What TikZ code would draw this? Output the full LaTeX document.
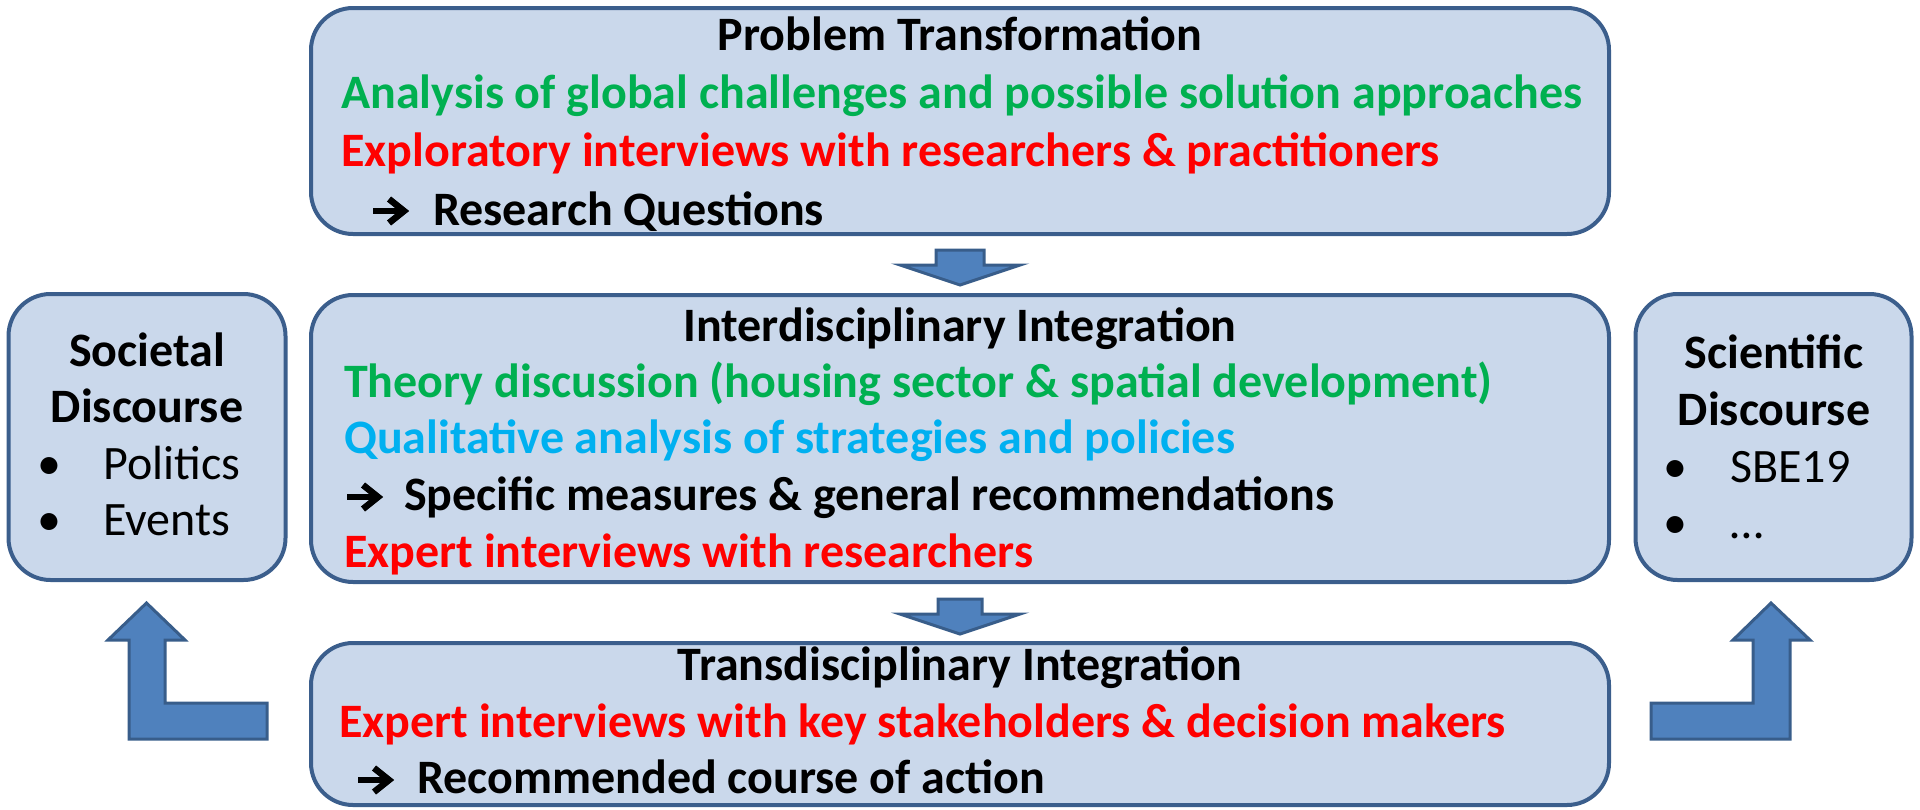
\documentclass[tikz,border=0pt]{standalone}
\usepackage{fontspec}
\setmainfont{Carlito}
\usetikzlibrary{calc}
\definecolor{boxfill}{HTML}{CAD8EB}
\definecolor{boxline}{HTML}{3B5E8C}
\definecolor{arrfill}{HTML}{4F81BD}
\definecolor{arrline}{HTML}{385D8A}
\definecolor{tgreen}{HTML}{00B050}
\definecolor{tred}{HTML}{FF0000}
\definecolor{tcyan}{HTML}{00B0F0}
\begin{document}
\begin{tikzpicture}[x=1pt,y=-1pt,
  box/.style={draw=boxline, fill=boxfill, line width=4pt, rounded corners=42pt, inner sep=0pt},
  blockarrow/.style={draw=arrline, fill=arrfill, line width=3pt, line join=miter},
  txt/.style={anchor=base west, inner sep=0pt, font=\fontsize{48}{58}\selectfont\bfseries},
  head/.style={anchor=base, inner sep=0pt, font=\fontsize{48}{58}\selectfont\bfseries},
  plain/.style={anchor=base west, inner sep=0pt, font=\fontsize{48}{58}\selectfont},
  arrowshaft/.style={line width=6pt},
  arrowchev/.style={line width=6.5pt, line join=miter, miter limit=4},
]
\useasboundingbox (0,0) rectangle (1920,809);

% boxes
\node[box, minimum width=1298pt, minimum height=226pt] (top) at (960,121) {};
\node[box, minimum width=1298pt, minimum height=287pt] (mid) at (960,438.5) {};
\node[box, minimum width=1298pt, minimum height=162pt] (bot) at (960,724) {};
\node[box, minimum width=277pt, minimum height=286pt] (soc) at (147,437) {};
\node[box, minimum width=276pt, minimum height=286pt] (sci) at (1773.5,437) {};

% top box text
\node[head] (h1) at (960,50) {Problem Transformation};
\node[txt, text=tgreen] (t1) at (341,108) {Analysis of global challenges and possible solution approaches};
\node[txt, text=tred] (t2) at (341,166) {Exploratory interviews with researchers \& practitioners};
\coordinate (a1) at (373,211);
\node[txt] (t3) at (433,225) {Research Questions};

% middle box text
\node[head] (h2) at (960,341) {Interdisciplinary Integration};
\node[txt, text=tgreen] (m1) at (344,397) {Theory discussion (housing sector \& spatial development)};
\node[txt, text=tcyan] (m2) at (344,453) {Qualitative analysis of strategies and policies};
\coordinate (a2) at (347,497);
\node[txt] (m3) at (404,510) {Specific measures \& general recommendations};
\node[txt, text=tred] (m4) at (344,567) {Expert interviews with researchers};

% bottom box text
\node[head] (h3) at (960,680) {Transdisciplinary Integration};
\node[txt, text=tred] (b1) at (339,737) {Expert interviews with key stakeholders \& decision makers};
\coordinate (a3) at (358,780);
\node[txt] (b2) at (417,793) {Recommended course of action};

% arrow symbols
\foreach \c in {a1,a2,a3}{
  \draw[arrowshaft] ($(\c)+(0,0)$) -- ($(\c)+(30,0)$);
  \draw[arrowchev] ($(\c)+(16,-12)$) -- ($(\c)+(31,0)$) -- ($(\c)+(16,12)$);
}

% left box text
\node[head] (s1) at (147,366) {Societal};
\node[head] (s2) at (147,422) {Discourse};
\node[plain] (sb1) at (37,479) {•};
\node[plain] (sp) at (103,479) {Politics};
\node[plain] (sb2) at (37,535) {•};
\node[plain] (se) at (103,535) {Events};

% right box text
\node[head] (r1) at (1774,368) {Scientific};
\node[head] (r2) at (1774,425) {Discourse};
\node[plain] (rb1) at (1663,482) {•};
\node[plain] (rs) at (1730,482) {SBE19};
\node[plain] (rb2) at (1663,538) {•};
\node[plain] (rd) at (1730,538) {…};

% down block arrows
\draw[blockarrow, shift={(top.south)}]
  (-24,14) -- (24,14) -- (24,29) -- (60,29) -- (0,49) -- (-60,29) -- (-24,29) -- cycle;
\draw[blockarrow, shift={(mid.south)}]
  (-22,15) -- (22,15) -- (22,30) -- (60,30) -- (0,50) -- (-60,30) -- (-22,30) -- cycle;

% L-shaped block arrows
\draw[blockarrow]
  (146.5,603) -- (185,640) -- (165,640) -- (165,703) -- (267,703) -- (267,739)
  -- (129,739) -- (129,640) -- (108,640) -- cycle;
\draw[blockarrow]
  (1771,603) -- (1810,640) -- (1790,640) -- (1790,739) -- (1651,739) -- (1651,703)
  -- (1753,703) -- (1753,640) -- (1733,640) -- cycle;
\end{tikzpicture}
\end{document}
